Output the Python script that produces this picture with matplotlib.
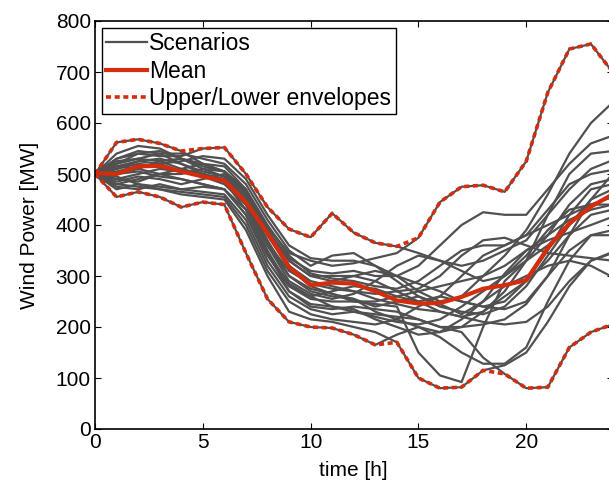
import numpy as np
import matplotlib.pyplot as plt

plt.rcParams['font.family'] = ['Liberation Sans', 'DejaVu Sans']

# hourly time grid
hours = np.arange(0, 25)

# wind power scenarios [MW] at each hour
scen_a = [500, 562, 568, 560, 545, 520, 505, 470, 400, 340, 305, 295, 290, 280, 275, 290, 320, 350, 360, 360, 380, 400, 420, 440, 440]
scen_b = [500, 530, 540, 535, 535, 550, 552, 500, 435, 392, 376, 423, 385, 365, 358, 345, 330, 320, 330, 350, 370, 420, 470, 510, 527]
scen_c = [500, 520, 540, 545, 530, 515, 505, 465, 395, 345, 330, 320, 325, 335, 345, 375, 445, 475, 478, 465, 525, 660, 745, 755, 700]
scen_d = [500, 455, 465, 455, 435, 445, 440, 345, 255, 210, 200, 198, 185, 165, 185, 200, 190, 200, 230, 260, 290, 330, 380, 420, 430]
scen_e = [500, 470, 480, 470, 460, 455, 450, 390, 300, 230, 215, 210, 200, 190, 170, 100, 80, 82, 115, 125, 150, 210, 280, 330, 345]
scen_f = [500, 480, 490, 500, 490, 480, 470, 420, 330, 270, 240, 235, 240, 235, 230, 215, 200, 190, 140, 108, 80, 82, 160, 190, 205]
scen_g = [500, 490, 500, 510, 505, 495, 480, 440, 350, 280, 255, 250, 250, 245, 240, 150, 105, 92, 200, 290, 330, 360, 400, 440, 455]
scen_h = [500, 510, 520, 515, 505, 500, 490, 450, 370, 300, 270, 260, 255, 230, 215, 200, 180, 150, 128, 128, 160, 250, 330, 380, 390]
scen_i = [500, 540, 555, 550, 530, 510, 495, 455, 385, 330, 300, 290, 300, 310, 300, 270, 250, 260, 300, 340, 390, 460, 540, 600, 640]
scen_j = [500, 525, 530, 540, 540, 530, 520, 480, 410, 350, 320, 340, 345, 320, 290, 260, 240, 230, 225, 240, 280, 340, 400, 450, 470]
scen_k = [500, 500, 505, 495, 490, 480, 470, 420, 340, 280, 260, 270, 280, 275, 260, 250, 260, 300, 340, 360, 380, 430, 480, 500, 508]
scen_l = [500, 515, 525, 530, 520, 505, 495, 445, 360, 300, 275, 265, 250, 250, 260, 270, 280, 290, 300, 320, 350, 370, 385, 400, 416]
scen_m = [500, 485, 495, 490, 480, 490, 500, 460, 380, 320, 290, 280, 270, 255, 245, 235, 230, 220, 210, 205, 210, 240, 290, 330, 347]
scen_n = [500, 475, 470, 480, 470, 465, 460, 410, 320, 260, 235, 225, 230, 220, 210, 205, 215, 240, 270, 300, 340, 390, 430, 440, 455]
scen_o = [500, 505, 515, 520, 525, 535, 530, 490, 420, 360, 335, 330, 330, 320, 300, 285, 270, 250, 240, 235, 250, 300, 350, 380, 380]
scen_p = [500, 495, 480, 475, 470, 475, 470, 430, 345, 270, 245, 240, 235, 215, 200, 185, 190, 215, 250, 280, 300, 320, 330, 320, 298]
scen_q = [500, 510, 525, 520, 505, 495, 485, 440, 360, 290, 265, 255, 265, 290, 320, 340, 330, 310, 290, 300, 330, 380, 440, 480, 490]
scen_r = [500, 520, 530, 525, 510, 500, 490, 445, 365, 310, 285, 275, 270, 265, 270, 275, 300, 340, 370, 375, 360, 345, 340, 335, 330]
scen_s = [500, 490, 485, 500, 510, 520, 515, 470, 390, 330, 300, 300, 300, 290, 270, 250, 230, 220, 230, 270, 330, 420, 500, 540, 545]
scen_t = [500, 530, 545, 540, 520, 500, 485, 430, 345, 285, 260, 240, 230, 225, 220, 215, 200, 200, 205, 215, 245, 300, 380, 450, 500]
scen_u = [500, 500, 510, 525, 530, 520, 505, 460, 380, 315, 280, 265, 255, 240, 250, 260, 245, 225, 250, 305, 350, 380, 410, 430, 440]
scen_v = [500, 480, 475, 470, 465, 460, 455, 400, 310, 250, 225, 215, 210, 205, 215, 240, 260, 250, 240, 250, 290, 350, 420, 470, 480]
scen_w = [500, 515, 510, 500, 500, 510, 505, 465, 390, 335, 310, 305, 310, 300, 300, 320, 360, 400, 425, 420, 420, 470, 520, 560, 575]

# mean curve as drawn in the figure
mean_power = [502, 500, 515, 516, 505, 495, 487, 445, 384, 318, 282, 287, 285, 270, 252, 246, 247, 259, 275, 282, 292, 355, 403, 436, 460]

scenarios = np.array([scen_a, scen_b, scen_c, scen_d, scen_e, scen_f, scen_g, scen_h,
                      scen_i, scen_j, scen_k, scen_l, scen_m, scen_n, scen_o, scen_p,
                      scen_q, scen_r, scen_s, scen_t, scen_u, scen_v, scen_w])
upper = scenarios.max(axis=0)
lower = scenarios.min(axis=0)

red = '#d42c0c'
grey = '#505050'

fig = plt.figure(figsize=(6.09, 4.87), dpi=100)
ax = fig.add_axes([95/609, 58/487, 517.5/609, 408/487])

for k, s in enumerate(scenarios):
    ax.plot(hours, s, color=grey, lw=1.6, label='Scenarios' if k == 0 else None)
ax.plot(hours, mean_power, color=red, lw=3, label='Mean')
ax.plot(hours, upper, color=red, lw=2.6, linestyle=(0, (1.4, 1.0)), label='Upper/Lower envelopes')
ax.plot(hours, lower, color=red, lw=2.6, linestyle=(0, (1.4, 1.0)))

ax.set_xlim(0, 24)
ax.set_ylim(0, 800)
ax.set_xticks([0, 5, 10, 15, 20])
ax.set_yticks(np.arange(0, 801, 100))
ax.tick_params(direction='in', top=True, right=True, length=4, labelsize=15, width=0.8, pad=3)
for sp in ax.spines.values():
    sp.set_linewidth(1.2)
ax.set_xlabel('time [h]', fontsize=15, labelpad=6)
ax.set_ylabel('Wind Power [MW]', fontsize=15, labelpad=12)

leg = ax.legend(loc='upper left', fontsize=16.5, frameon=True, fancybox=False,
                edgecolor='black', framealpha=1, borderaxespad=0.3,
                handlelength=1.75, handletextpad=0.12, labelspacing=0.18,
                borderpad=0.2)
leg.get_frame().set_linewidth(1.0)

plt.savefig('out.png', dpi=100)
